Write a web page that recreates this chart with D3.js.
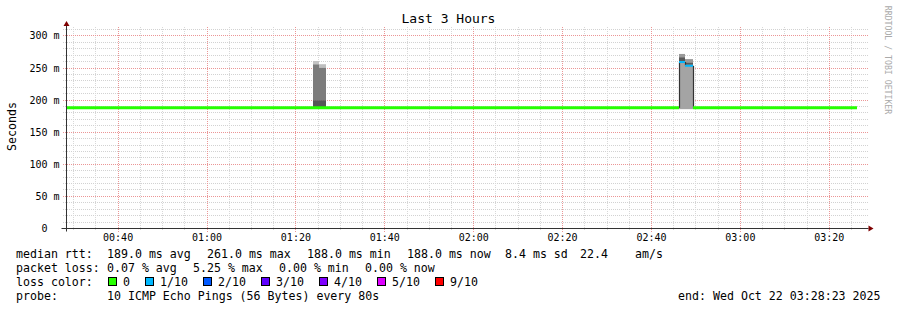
<!DOCTYPE html>
<html><head><meta charset="utf-8">
<script src="https://cdn.jsdelivr.net/npm/d3@7"></script>
<style>
body{margin:0;background:#fff}
svg{display:block}
text{font-family:"DejaVu Sans Mono",monospace;fill:#000}
</style>
</head><body>
<svg id="c" width="897" height="310"></svg>
<script>
// ---------------- data ----------------
const day = "2025-10-22";
const startTime = "00:28:23";
const endTime = "03:28:23";
const title = "Last 3 Hours";
const yAxisTitle = "Seconds";
const yTickValues = [0, 50, 100, 150, 200, 250, 300];           // ms
const yTickUnit = "m";
const yMax = 314;                                               // ms, top of plot
// median rtt runs (ms) and loss count out of 10
const runStart  = ["00:28:23", "02:46:18", "02:47:39", "02:49:14"];
const runEnd    = ["02:46:18", "02:47:39", "02:49:14", "03:26:21"];
const runMedian = [188, 259.4, 253.6, 188];
const runLoss   = [0, 1, 1, 0];
// smoke (ping spread) per step: bands [lo, hi] in ms and density 0..1
const smokeStart = ["01:23:57", "01:25:18", "02:46:18", "02:47:39"];
const smokeEnd   = ["01:25:18", "01:26:40", "02:47:39", "02:49:14"];
const smokeBands = [
  [[188, 200], [200, 256], [256, 261]],
  [[188, 200], [200, 251], [251, 256]],
  [[186, 261], [261, 267], [267, 272]],
  [[186, 255], [255, 259], [259, 264]]
];
const smokeDensity = [
  [0.84, 0.60, 0.15],
  [0.84, 0.60, 0.19],
  [0.35, 0.81, 0.41],
  [0.35, 0.81, 0.41]
];
// legend
const medianLabel = "median rtt:";
const medianStats = ["189.0 ms avg", "261.0 ms max", "188.0 ms min", "188.0 ms now", "8.4 ms sd", "22.4", "am/s"];
const lossLabel = "packet loss:";
const lossStats = ["0.07 % avg", "5.25 % max", "0.00 % min", "0.00 % now"];
const lossColorLabel = "loss color:";
const lossLevels = [0, 1, 2, 3, 4, 5, 9];
const lossLevelLabels = ["0", "1/10", "2/10", "3/10", "4/10", "5/10", "9/10"];
const probeLabel = "probe:";
const probeText = "10 ICMP Echo Pings (56 Bytes) every 80s";
const endText = "end: Wed Oct 22 03:28:23 2025";
const watermark = "RRDTOOL / TOBI OETIKER";

// ---------------- drawing ----------------
const T = s => new Date(`${day}T${s}`);
const svg = d3.select("#c");
const L = 66.5, R = 866.5, B = 228.5, TOP = 27;

const x = d3.scaleTime().domain([T(startTime), T(endTime)]).range([L, R]);
const y = d3.scaleLinear().domain([0, yMax]).range([B, TOP]);
const lossColor = d3.scaleOrdinal().domain(lossLevels)
  .range(["#26ff00", "#00b8ff", "#0059ff", "#5e00ff", "#7e00ff", "#dd00ff", "#ff0000"]);
const shade = d3.scaleLinear().domain([0, 1]).range(["#dcdcdc", "#3c3c3c"]);

const crisp = v => Math.round(v - 0.5) + 0.5;

// grid (dotted, pixel aligned)
const g = svg.append("g").attr("shape-rendering", "crispEdges");
const minorY = d3.range(0, yMax + 0.001, 10);
g.selectAll("line.hy").data(minorY.filter(v => v % 50 !== 0)).join("line").attr("class", "hy")
  .attr("x1", 63).attr("x2", 868).attr("y1", d => crisp(y(d))).attr("y2", d => crisp(y(d)))
  .style("stroke", "#d2d2d2").attr("stroke-dasharray", "1,1");
const minorX = x.ticks(d3.timeMinute.every(5)).filter(d => d.getMinutes() % 20 !== 0);
g.selectAll("line.vx").data(minorX).join("line").attr("class", "vx")
  .attr("x1", d => crisp(x(d))).attr("x2", d => crisp(x(d))).attr("y1", TOP).attr("y2", 231)
  .style("stroke", "#d8d8d8").attr("stroke-dasharray", "1,1");
g.selectAll("line.my").data(yTickValues.filter(v => v > 0)).join("line").attr("class", "my")
  .attr("x1", 63).attr("x2", 868).attr("y1", d => crisp(y(d))).attr("y2", d => crisp(y(d)))
  .style("stroke", "#eb9696").attr("stroke-dasharray", "1,1");
const majorX = x.ticks(d3.timeMinute.every(20));
g.selectAll("line.mx").data(majorX).join("line").attr("class", "mx")
  .attr("x1", d => crisp(x(d))).attr("x2", d => crisp(x(d))).attr("y1", TOP).attr("y2", 232)
  .style("stroke", "#eb9696").attr("stroke-dasharray", "1,1");

// smoke
smokeStart.forEach((s, i) => {
  const x0 = Math.round(x(T(s))), x1 = Math.round(x(T(smokeEnd[i])));
  smokeBands[i].forEach((b, j) => {
    const y0 = y(b[1]), y1 = y(b[0]);
    svg.append("rect").attr("x", x0).attr("width", x1 - x0)
      .attr("y", y0).attr("height", y1 - y0)
      .attr("fill", shade(smokeDensity[i][j]));
  });
});

// median line connectors (dark) at run boundaries
for (let i = 1; i < runStart.length; i++) {
  const xx = Math.round(x(T(runStart[i]))) + 0.5;
  svg.append("line").attr("x1", xx).attr("x2", xx)
    .attr("y1", y(runMedian[i - 1])).attr("y2", y(runMedian[i]))
    .attr("stroke", "#333").attr("stroke-width", 1.2);
}
// median runs
runStart.forEach((s, i) => {
  svg.append("line")
    .attr("x1", Math.round(x(T(s)))).attr("x2", Math.round(x(T(runEnd[i]))))
    .attr("y1", y(runMedian[i])).attr("y2", y(runMedian[i]))
    .attr("stroke", lossColor(runLoss[i])).attr("stroke-width", runLoss[i] === 0 ? 3 : 2);
});

// axes
const axisColor = "#333", arrowColor = "#7f0000";
svg.append("line").attr("x1", L).attr("x2", L).attr("y1", B + 3).attr("y2", TOP - 1)
  .attr("stroke", axisColor);
svg.append("line").attr("x1", L - 5).attr("x2", R + 2).attr("y1", B).attr("y2", B)
  .attr("stroke", axisColor);
svg.append("path").attr("d", `M${L - 3},${TOP - 1} L${L + 3},${TOP - 1} L${L},${TOP - 6} Z`).attr("fill", arrowColor);
svg.append("path").attr("d", `M${R + 2},${B - 3} L${R + 2},${B + 3} L${R + 7},${B} Z`).attr("fill", arrowColor);

// y tick labels
yTickValues.forEach(v => {
  const yy = y(v) + 3.5;
  svg.append("text").attr("x", 47.5).attr("y", yy).attr("text-anchor", "end")
    .attr("font-size", 10).text(v);
  if (v !== 0) svg.append("text").attr("x", 53.5).attr("y", yy)
    .attr("font-size", 10).text(yTickUnit);
});
// x tick labels
majorX.forEach(d => {
  svg.append("text").attr("x", x(d)).attr("y", 240.5).attr("text-anchor", "middle")
    .attr("font-size", 10).text(d3.timeFormat("%H:%M")(d));
});

// titles
svg.append("text").attr("x", 448.5).attr("y", 23).attr("text-anchor", "middle")
  .attr("font-size", 13).text(title);
svg.append("text").attr("transform", "translate(15.5,126.5) rotate(-90)").attr("text-anchor", "middle")
  .attr("font-size", 11.6).text(yAxisTitle);
svg.append("text").attr("transform", "translate(885,60) rotate(90)").attr("text-anchor", "middle")
  .attr("font-size", 8.2).style("fill", "#aaa").text(watermark);

// legend
const FS = 11.6, CW = 7;
const leg = (txt, xx, yy, anchor) => svg.append("text").attr("x", xx).attr("y", yy)
  .attr("font-size", FS).attr("text-anchor", anchor || "start")
  .style("white-space", "pre").text(txt);
leg(medianLabel, 16, 258);
[107, 207, 307, 407, 505, 580, 635].forEach((xx, i) => leg(medianStats[i], xx, 258));
leg(lossLabel, 16, 272);
[107, 193, 279, 365].forEach((xx, i) => leg(lossStats[i], xx, 272));
leg(lossColorLabel, 16, 286);
let sx = 109;
lossLevels.forEach((lv, i) => {
  svg.append("rect").attr("x", sx - 0.5).attr("y", 277.5).attr("width", 8).attr("height", 8)
    .attr("fill", lossColor(lv)).attr("stroke", "#000").attr("stroke-width", 1);
  leg(lossLevelLabels[i], sx + 14, 286);
  sx = sx + 14 + lossLevelLabels[i].length * CW + 16;
});
leg(probeLabel, 16, 300);
leg(probeText, 107, 300);
leg(endText, 880.5, 300, "end");
</script>
</body></html>
